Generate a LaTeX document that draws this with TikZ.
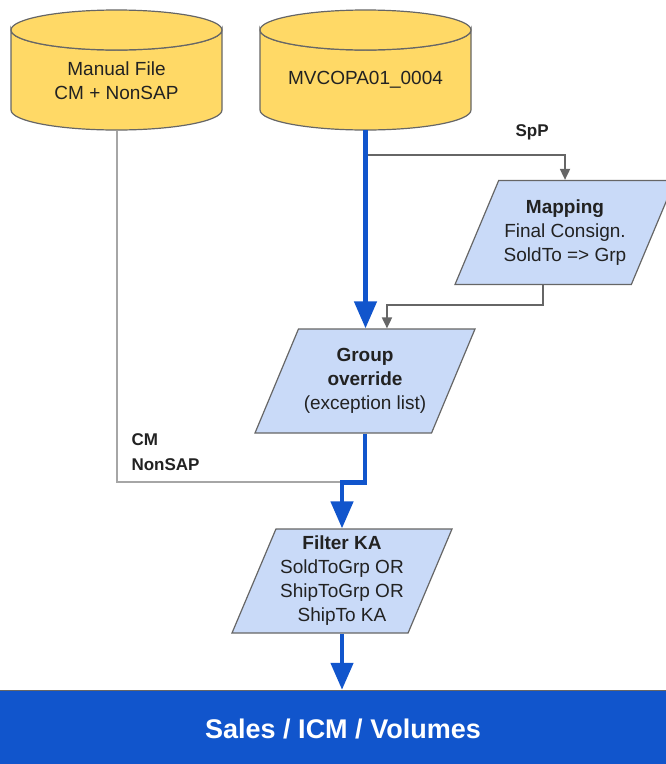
\documentclass[tikz,border=0pt]{standalone}
\usepackage{fontspec}
\setmainfont{Liberation Sans}
\usetikzlibrary{shapes.geometric,arrows.meta,calc}
\definecolor{cylyellow}{HTML}{FFD966}
\definecolor{parablue}{HTML}{C9DAF8}
\definecolor{flowblue}{HTML}{1155CC}
\definecolor{edgegray}{HTML}{666666}
\definecolor{linegray}{HTML}{A6A6A6}
\definecolor{textgray}{HTML}{222222}

\begin{document}
\begin{tikzpicture}[x=1pt,y=-1pt,
 font=\fontsize{19}{24}\selectfont,
 cyl/.style={fill=cylyellow,draw=edgegray,line width=1.2pt},
 cyltext/.style={minimum width=211pt,minimum height=100pt,align=center,text=textgray},
 para/.style={trapezium,trapezium left angle=67,trapezium right angle=113,trapezium stretches body,
  draw=edgegray,line width=1.2pt,fill=parablue,minimum width=220pt,minimum height=104pt,
  align=center,text=textgray,inner xsep=2pt,inner ysep=18.6pt},
 bluearrow/.style={draw=flowblue,line width=4.5pt,-{Triangle[length=27pt,width=22pt]}},
 grayarrow/.style={draw=edgegray,line width=1.8pt,-{Triangle[length=11pt,width=10pt]}},
 grayline/.style={draw=linegray,line width=2pt},
 lbl/.style={font=\fontsize{17}{25}\selectfont\bfseries,text=textgray,align=left}]
 \useasboundingbox (0,0) rectangle (666,764);

 \draw[cyl] (11,30) -- (11,110) arc[start angle=180,end angle=360,x radius=105.5pt,y radius=20pt]
  -- (222,30) arc[start angle=0,end angle=-180,x radius=105.5pt,y radius=20pt] -- cycle;
 \draw[cyl] (116.5,30) ellipse[x radius=105.5pt,y radius=20pt];
 \draw[cyl] (260,30) -- (260,110) arc[start angle=180,end angle=360,x radius=105.5pt,y radius=20pt]
  -- (471,30) arc[start angle=0,end angle=-180,x radius=105.5pt,y radius=20pt] -- cycle;
 \draw[cyl] (365.5,30) ellipse[x radius=105.5pt,y radius=20pt];

 \node[cyltext] (manual) at (116.5,81) {Manual File\\CM + NonSAP};
 \node[cyltext] (mv) at (365.5,80) {MVCOPA01\_0004};

 \node[para] (mapping) at (565,232.5) {\textbf{Mapping}\\Final Consign.\\SoldTo => Grp};
 \node[para] (group) at (365,381) {\textbf{Group}\\\textbf{override}\\(exception list)};
 \node[para,inner ysep=6.9pt] (filter) at (342,581) {\textbf{Filter KA}\\SoldToGrp OR\\ShipToGrp OR\\ShipTo KA};

 \node[fill=flowblue,draw=edgegray,minimum width=706pt,minimum height=78pt,text=white,
  font=\fontsize{27}{30}\selectfont\bfseries] (bar) at (343,729) {Sales / ICM / Volumes};

 \node[lbl,anchor=west] (spp) at (512,132) {SpP};
 \node[lbl,anchor=west] (cmlbl) at (128,452.5) {CM\\NonSAP};

 \coordinate (join) at ([yshift=46pt]filter.north);
 \draw[grayarrow] ([yshift=-25pt]mv.south) -| (mapping.north);
 \draw[grayarrow] ($(mapping.bottom left corner)!0.5!(mapping.bottom right corner)$) -- ++(0,20)
  -| ($(group.top left corner)!0.5!(group.top right corner)$);
 \draw[grayline] (manual.south) |- (join);
 \draw[bluearrow] (mv.south) -- (mv.south |- group.north);
 \draw[bluearrow] (group.south) |- (join) -- (filter.north);
 \draw[bluearrow] (filter.south) -- (filter.south |- bar.north);
\end{tikzpicture}
\end{document}
